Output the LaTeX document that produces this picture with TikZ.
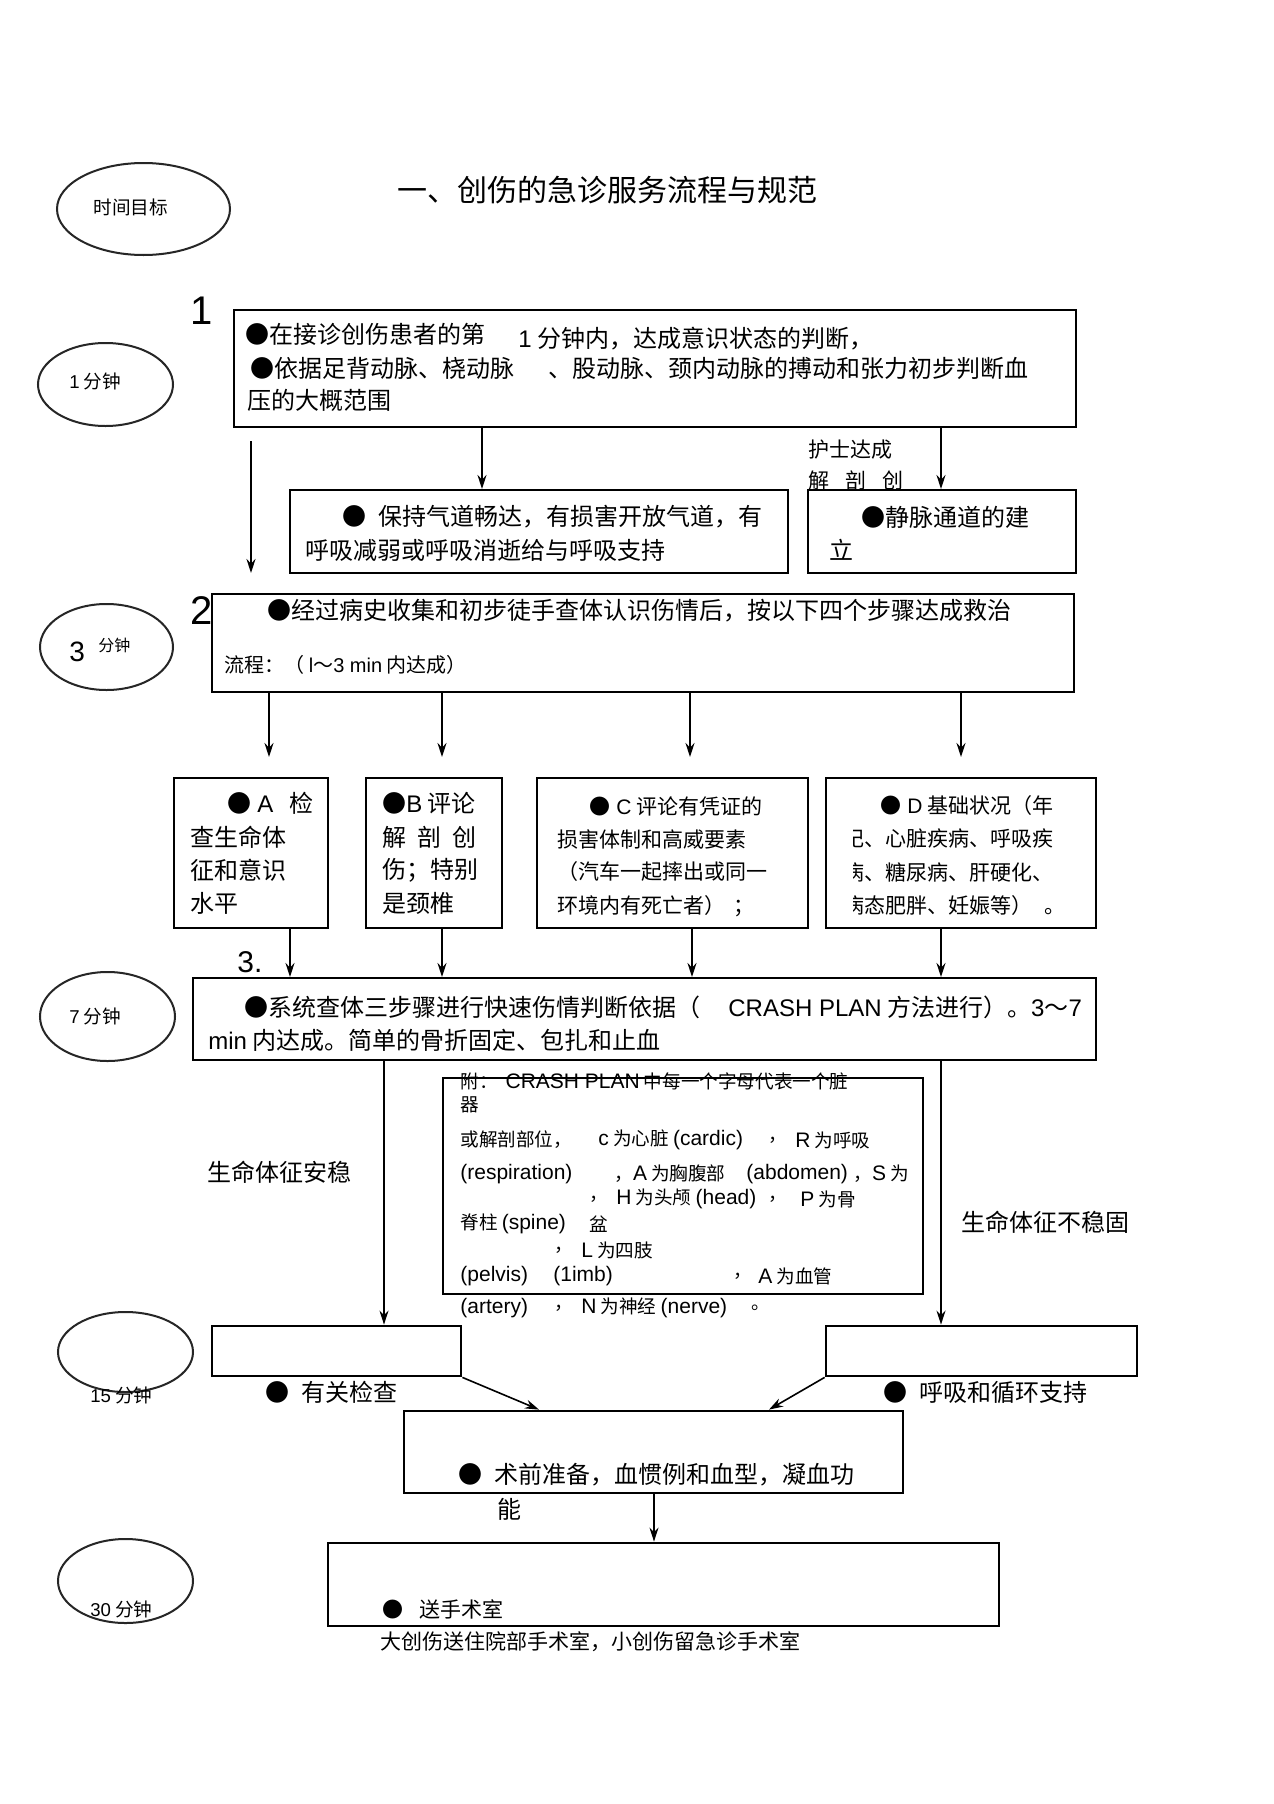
\documentclass[tikz,border=0pt]{standalone}
\usepackage{fontspec}
\setmainfont{Noto Sans CJK SC}
\newfontfamily\lat{Liberation Sans}
\newcommand\latn[1]{{\lat #1}}
\newcommand\latb[1]{{\lat\fontsize{10.5}{12}\selectfont #1}}
\usetikzlibrary{arrows.meta,fit,shapes.geometric}
\begin{document}
\begin{tikzpicture}[x=0.5pt,y=-0.5pt,
  box/.style={draw, line width=1pt, inner sep=0pt},
  boxb/.style={draw, line width=1.4pt, inner sep=0pt},
  ell/.style={draw=black!85, ellipse, line width=1pt, inner sep=0pt},
  txt/.style={anchor=west, inner sep=0pt, font=\fontsize{12}{14}\selectfont},
  txs/.style={anchor=west, inner sep=0pt, font=\fontsize{10.5}{12}\selectfont},
  txm/.style={anchor=west, inner sep=0pt, font=\fontsize{10}{12}\selectfont},
  txc/.style={anchor=west, inner sep=0pt, font=\fontsize{9.3}{11}\selectfont},
  num/.style={anchor=center, inner sep=0pt, font=\lat\fontsize{20}{22}\selectfont},
  arr/.style={-{Stealth[length=7pt,width=4.5pt]}, line width=0.8pt},
  ln/.style={line width=0.8pt}]
\fill[white] (0,0) rectangle (1274,1804);
\useasboundingbox (0,0) rectangle (1274,1804);

% title
\node[anchor=west, inner sep=0pt, font=\fontsize{15}{17}\selectfont] (title) at (397,190) {一、创伤的急诊服务流程与规范};

% time ellipses
\node[ell, minimum width=86.5pt, minimum height=46pt] (e0) at (143.5,209) {};
\node[txc] (e0t) at (93,207) {时间目标};
\node[ell, minimum width=67.5pt, minimum height=41.5pt] (e1) at (105.5,384.5) {};
\node[txc] (e1t) at (69,381) {\latn{1} 分钟};
\node[ell, minimum width=66.5pt, minimum height=43pt] (e3) at (106.5,647) {};
\node[anchor=west, inner sep=0pt, font=\lat\fontsize{14}{16}\selectfont] (e3n) at (69,652) {3};
\node[anchor=west, inner sep=0pt, font=\fontsize{8}{9}\selectfont] (e3t) at (98,645) {分钟};
\node[ell, minimum width=67.5pt, minimum height=44.5pt] (e7) at (107.5,1016.5) {};
\node[txc] (e7t) at (69,1016) {\latn{7} 分钟};
\node[ell, minimum width=67.5pt, minimum height=40pt] (e15) at (125.5,1352) {};
\node[txc] (e15t) at (90,1395) {\latn{15} 分钟};
\node[ell, minimum width=67.5pt, minimum height=42pt] (e30) at (125.5,1581) {};
\node[txc] (e30t) at (90,1609) {\latn{30} 分钟};

% step numbers
\node[num] (n1) at (202,311) {1};
\node[num] (n2) at (202,611) {2};
\node[num, font=\lat\fontsize{15}{17}\selectfont] (n3) at (250,962) {3.};

% box 1
\node[box, fit={(234,310) (1076,427)}] (b1) {};
\node[txt] at (245,334) {●在接诊创伤患者的第};
\node[txt] at (518,339) {\latn{1} 分钟内，达成意识状态的判断，};
\node[txt] at (250,368) {●依据足背动脉、桡动脉};
\node[txt] at (548,368) {、股动脉、颈内动脉的搏动和张力初步判断血};
\node[txt] at (247,400) {压的大概范围};

% nurse text
\node[txs] (nurse1) at (808,450) {护士达成};
\node[txs] (nurse2) at (808,481) {解\hspace{8pt}剖\hspace{8pt}创};

% airway and iv boxes
\node[box, fit={(290,490) (788,573)}] (bair) {};
\node[txt] at (342,517) {●\hspace{6pt}保持气道畅达，有损害开放气道，有};
\node[txt] at (305,550) {呼吸减弱或呼吸消逝给与呼吸支持};
\node[box, fit={(808,490) (1076,573)}] (biv) {};
\node[txt] at (861,517) {●静脉通道的建};
\node[txt] at (829,550) {立};

\draw[arr] (b1.south -| 482,0) -- (bair.north -| 482,0);
\draw[arr] (b1.south -| 941,0) -- (biv.north -| 941,0);
\coordinate (l1) at (251,441);
\coordinate (l2) at (251,573);
\draw[arr] (l1) -- (l2);

% box 2
\node[box, fit={(212,594) (1074,692)}] (b2) {};
\node[txt] at (267,611) {●经过病史收集和初步徒手查体认识伤情后，按以下四个步骤达成救治};
\node[txm] at (224,665) {流程：（ \latn{l}～\latn{3 min} 内达成）};

% A-D boxes
\node[box, fit={(174,778) (328,928)}] (bA) {};
\node[txt] at (227,803) {●\hspace{3pt}\latn{A}\hspace{8pt}检};
\node[txt] at (190,837) {查生命体};
\node[txt] at (190,870) {征和意识};
\node[txt] at (190,903) {水平};
\node[box, fit={(366,778) (502,928)}] (bB) {};
\node[txt] at (382,803) {●\latn{B} 评论};
\node[txt] at (382,837) {解\hspace{5.5pt}剖\hspace{5.5pt}创};
\node[txt] at (382,870) {伤；特别};
\node[txt] at (382,903) {是颈椎};
\node[boxb, fit={(537,778) (808,928)}] (bC) {};
\node[txs] at (589,806) {●\hspace{3pt}\latn{C} 评论有凭证的};
\node[txs] at (557,839) {损害体制和高威要素};
\node[txs] at (557,872) {（汽车一起摔出或同一};
\node[txs] at (557,906) {环境内有死亡者）\hspace{4pt}；};
\node[box, fit={(826,778) (1096,928)}] (bD) {};
\node[txs] at (880,806) {●\hspace{3pt}\latn{D} 基础状况（年};
\begin{scope}
\clip (853,790) rectangle (1094,926);
\node[txs] at (843,839) {纪、心脏疾病、呼吸疾};
\node[txs] at (843,872) {病、糖尿病、肝硬化、};
\node[txs] at (843,906) {病态肥胖、妊娠等）\hspace{6pt}。};
\end{scope}

\coordinate (tA) at (269,757);
\coordinate (tB) at (442,757);
\coordinate (tC) at (690,757);
\coordinate (tD) at (961,757);
\draw[arr] (b2.south -| tA) -- (tA);
\draw[arr] (b2.south -| tB) -- (tB);
\draw[arr] (b2.south -| tC) -- (tC);
\draw[arr] (b2.south -| tD) -- (tD);

% box 3
\node[box, fit={(193,978) (1096,1060)}] (b3) {};
\node[txt] at (244,1007) {●系统查体三步骤进行快速伤情判断依据（};
\node[txt] at (728,1007) {\latn{CRASH PLAN} 方法进行）。\latn{3}～\latn{7}};
\node[txt] at (208,1040) {\latn{min} 内达成。简单的骨折固定、包扎和止血};

\draw[arr] (bA.south -| 290,0) -- (b3.north -| 290,0);
\draw[arr] (bB.south -| 442,0) -- (b3.north -| 442,0);
\draw[arr] (bC.south -| 692,0) -- (b3.north -| 692,0);
\draw[arr] (bD.south -| 941,0) -- (b3.north -| 941,0);

% crash box
\node[box, fit={(443,1078) (923,1294)}] (bcr) {};
\node[txc] at (460,1081) {附：\hspace{4pt}\latb{CRASH PLAN} 中每一个字母代表一个脏};
\node[txc] at (460,1105) {器};
\node[txc] at (460,1140) {或解剖部位，};
\node[txc] at (598,1140) {\latb{c} 为心脏 \latb{(cardic)}};
\node[txc] at (768,1140) {，};
\node[txc] at (795,1140) {\latb{R} 为呼吸};
\node[txc] at (460,1174) {\latb{(respiration)}};
\node[txc] at (614,1174) {，\latb{A} 为胸腹部};
\node[txc] at (746,1174) {\latb{(abdomen)}};
\node[txc] at (853,1174) {，\latb{S} 为};
\node[txc] at (589,1199) {，};
\node[txc] at (616,1199) {\latb{H} 为头颅 \latb{(head)}};
\node[txc] at (768,1199) {，};
\node[txc] at (800,1199) {\latb{P} 为骨};
\node[txc] at (460,1224) {脊柱 \latb{(spine)}};
\node[txc] at (589,1224) {盆};
\node[txc] at (554,1250) {，};
\node[txc] at (581,1250) {\latb{L} 为四肢};
\node[txc] at (460,1276) {\latb{(pelvis)}};
\node[txc] at (553,1276) {\latb{(1imb)}};
\node[txc] at (733,1276) {，};
\node[txc] at (758,1276) {\latb{A} 为血管};
\node[txc] at (460,1308) {\latb{(artery)}};
\node[txc] at (554,1308) {，};
\node[txc] at (581,1308) {\latb{N} 为神经 \latb{(nerve)}};
\node[txc] at (751,1308) {。};

% side labels
\node[txt] (stab) at (207,1172) {生命体征安稳};
\node[txt] (unstab) at (961,1222) {生命体征不稳固};

% lower boxes
\node[boxb, fit={(212,1326) (461,1376)}] (bL) {};
\node[txt] at (265,1392) {●\hspace{6pt}有关检查};
\node[boxb, fit={(826,1326) (1137,1376)}] (bR) {};
\node[txt] at (883,1392) {●\hspace{6pt}呼吸和循环支持};

\draw[arr] (b3.south -| 384,0) -- (bL.north -| 384,0);
\draw[arr] (b3.south -| 941,0) -- (bR.north -| 941,0);

\node[boxb, fit={(404,1411) (903,1493)}] (bM) {};
\node[txt] at (458,1475) {●\hspace{6pt}术前准备，血惯例和血型，凝血功};
\node[txt] at (497,1509) {能};

\draw[arr] (bL.south east) -- (bM.north -| 539,0);
\draw[arr] (bR.south west) -- (bM.north -| 769,0);

\node[boxb, fit={(328,1543) (999,1626)}] (bOR) {};
\node[txs] at (382,1609) {●\hspace{8pt}送手术室};
\node[txs] at (380,1642) {大创伤送住院部手术室，小创伤留急诊手术室};

\draw[arr] (bM.south -| 654,0) -- (bOR.north -| 654,0);
\end{tikzpicture}
\end{document}
